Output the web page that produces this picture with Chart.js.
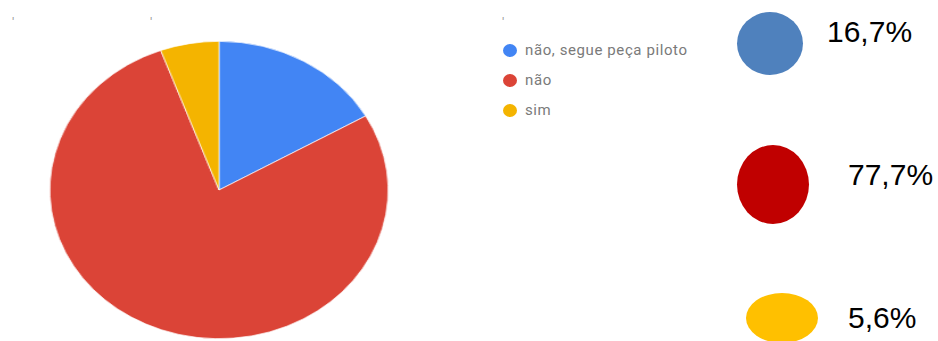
<!DOCTYPE html>
<html>
<head>
<meta charset="utf-8">
<script src="https://cdn.jsdelivr.net/npm/chart.js@4"></script>
<style>
  html, body { margin: 0; padding: 0; background: #fff; }
  body { width: 938px; height: 341px; position: relative; overflow: hidden; }
  #pieWrap { position: absolute; left: 70px; top: 41px; width: 298px; height: 298px;
             transform: scaleX(1.1376); transform-origin: 50% 50%; }
  #legend { position: absolute; left: 501px; top: 39px; font-family: Roboto, sans-serif;
            font-size: 15px; letter-spacing: 0.6px; color: #7a7a7a; }
  .item { height: 30px; line-height: 23px; position: relative; padding-left: 24px; }
  .dot { position: absolute; left: 2px; top: 5px; width: 14px; height: 13px; border-radius: 50%; }
  .blob { position: absolute; border-radius: 50%; }
  .pct { position: absolute; font-family: "Liberation Sans", Arial, sans-serif; font-size: 30px;
         color: #000; line-height: 30px; }
  .tick { position: absolute; top: 15px; font-family: Roboto, sans-serif; font-size: 13px; color: #999; }
</style>
</head>
<body>
<span class="tick" style="left:12px">'</span>
<span class="tick" style="left:150px">'</span>
<span class="tick" style="left:502px">'</span>
<div id="pieWrap"><canvas id="pie"></canvas></div>
<div id="legend"></div>
<div id="side"></div>
<script>
// respostas
const labels = ['não, segue peça piloto', 'não', 'sim'];
const values = [16.7, 77.7, 5.6];
const pieColors = ['#4285F4', '#DB4437', '#F4B400'];
const sideColors = ['#4F81BD', '#C00000', '#FFC000'];

const ctx = document.getElementById('pie').getContext('2d');
const chart = new Chart(ctx, {
  type: 'pie',
  data: {
    labels: labels,
    datasets: [{
      data: values,
      backgroundColor: pieColors,
      borderColor: '#ffffff',
      borderWidth: 0.7
    }]
  },
  options: {
    responsive: true,
    maintainAspectRatio: false,
    animation: false,
    plugins: { legend: { display: false }, tooltip: { enabled: false } }
  }
});

// legenda do lado do gráfico
const legend = document.getElementById('legend');
chart.data.labels.forEach((lab, i) => {
  const row = document.createElement('div');
  row.className = 'item';
  row.innerHTML = '<span class="dot" style="background:' + pieColors[i] + '"></span>' + lab;
  legend.appendChild(row);
});

// bolinhas com percentagens à direita
const blobs = [
  { x: 737, y: 12, w: 66, h: 63, tx: 827, ty: 17 },
  { x: 737, y: 145, w: 72, h: 79, tx: 848, ty: 160 },
  { x: 746, y: 293, w: 72, h: 50, tx: 848, ty: 303 }
];
const side = document.getElementById('side');
values.forEach((v, i) => {
  const b = blobs[i];
  const e = document.createElement('div');
  e.className = 'blob';
  e.style.cssText = 'left:' + b.x + 'px;top:' + b.y + 'px;width:' + b.w + 'px;height:' + b.h + 'px;background:' + sideColors[i];
  side.appendChild(e);
  const t = document.createElement('div');
  t.className = 'pct';
  t.style.left = b.tx + 'px';
  t.style.top = b.ty + 'px';
  t.textContent = v.toFixed(1).replace('.', ',') + '%';
  side.appendChild(t);
});
</script>
</body>
</html>
